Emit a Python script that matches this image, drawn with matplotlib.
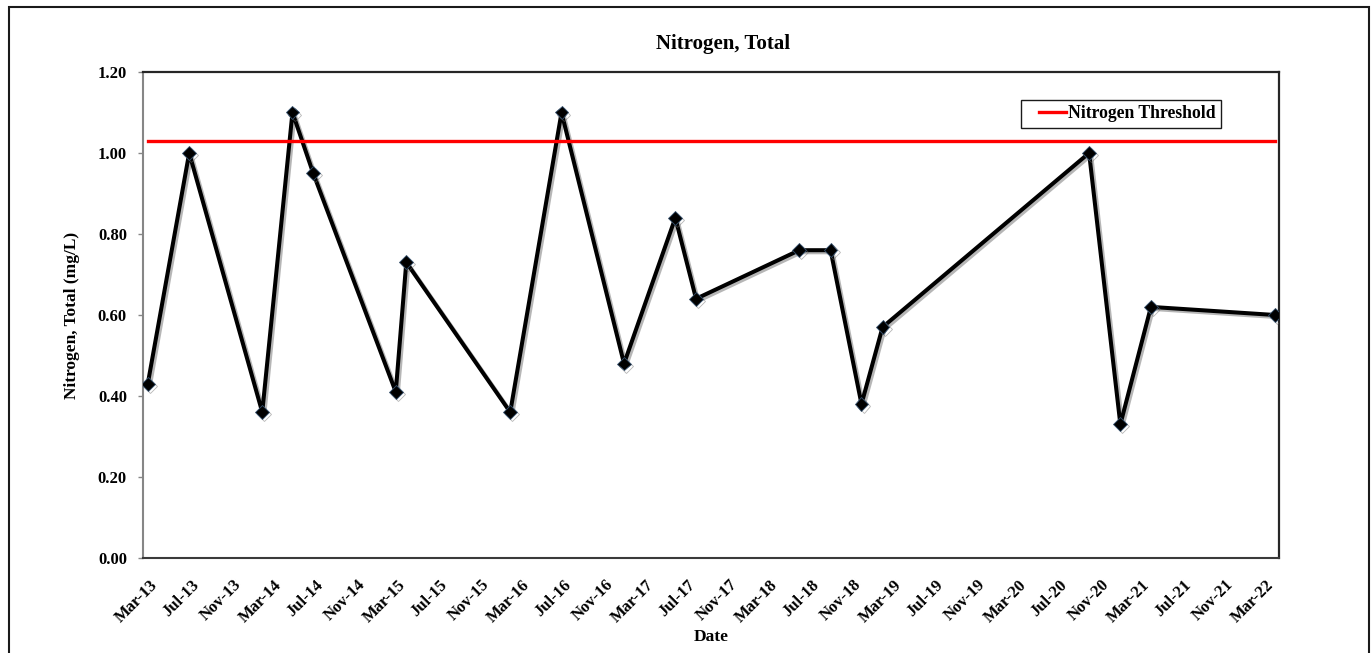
import matplotlib
matplotlib.use("Agg")
import matplotlib.pyplot as plt
import matplotlib.dates as mdates
import matplotlib.patheffects as pe
from matplotlib.patches import Rectangle
from matplotlib.lines import Line2D
from matplotlib.legend_handler import HandlerLine2D
from matplotlib.transforms import ScaledTranslation
from matplotlib.ticker import FormatStrFormatter
import pandas as pd

# ---- data ----
sample_dates = ['2013-03-15', '2013-07-15', '2014-02-15', '2014-05-15', '2014-07-15',
                '2015-03-15', '2015-04-15', '2016-02-15', '2016-07-15', '2017-01-15',
                '2017-06-15', '2017-08-15', '2018-06-15', '2018-09-15', '2018-12-15',
                '2019-02-15', '2020-10-15', '2021-01-15', '2021-04-15', '2022-04-15']
nitrogen = [0.43, 1.00, 0.36, 1.10, 0.95,
            0.41, 0.73, 0.36, 1.10, 0.48,
            0.84, 0.64, 0.76, 0.76, 0.38,
            0.57, 1.00, 0.33, 0.62, 0.60]
threshold = 1.03
y_ticks = [0.0, 0.2, 0.4, 0.6, 0.8, 1.0, 1.2]
x_start, x_end = '2013-03-01', '2022-04-27'
tick_start, tick_end = '2013-03-01', '2022-03-01'

dates = pd.to_datetime(sample_dates)

FONT = 'Liberation Serif'
plt.rcParams['font.family'] = [FONT, 'DejaVu Serif']
plt.rcParams['font.weight'] = 'bold'

W, H = 1371, 653
fig = plt.figure(figsize=(W / 100, H / 100), dpi=100)
fig.patch.set_facecolor('white')

L, R, T, B = 143, 1279, 72, 558
ax = fig.add_axes([L / W, 1 - B / H, (R - L) / W, (B - T) / H])

# data series with soft shadow
ax.plot(dates, nitrogen, color='black', lw=2.9, marker='D', ms=7,
        mfc='black', mec='#34506e', mew=0.6, zorder=3,
        path_effects=[pe.SimpleLineShadow(offset=(1.5, -1.5), shadow_color='#6f6f6f', alpha=0.5),
                      pe.Normal()])

# threshold line spanning first to last sample
thr_line, = ax.plot([dates[0], dates[-1]], [threshold, threshold], color='#ff0000',
                    lw=2.4, zorder=4, label='Nitrogen Threshold')

ax.set_xlim(pd.Timestamp(x_start), pd.Timestamp(x_end))
ax.set_ylim(0, 1.2)
ax.set_yticks(y_ticks)
ax.yaxis.set_major_formatter(FormatStrFormatter('%.2f'))

xt = pd.date_range(tick_start, tick_end, freq='4MS')
ax.set_xticks(xt)
ax.xaxis.set_major_formatter(mdates.DateFormatter('%b-%y'))

ax.tick_params(axis='y', direction='out', length=3.6, width=1.0, color='#868686',
               pad=8, labelsize=12, labelcolor='black')
ax.tick_params(axis='x', length=0, pad=13.5, labelsize=12, labelcolor='black')

offset = ScaledTranslation(6.5 / 100, 0, fig.dpi_scale_trans)
for lbl in ax.get_xticklabels():
    lbl.set_rotation(45)
    lbl.set_ha('right')
    lbl.set_va('top')
    lbl.set_rotation_mode('anchor')
    lbl.set_fontweight('bold')
    lbl.set_transform(lbl.get_transform() + offset)
for lbl in ax.get_yticklabels():
    lbl.set_fontweight('bold')

ax.spines['left'].set_color('#868686')
ax.spines['left'].set_linewidth(1.5)
ax.spines['bottom'].set_color('#3a3a3a')
ax.spines['bottom'].set_linewidth(1.5)
for s in ('top', 'right'):
    ax.spines[s].set_color('#262626')
    ax.spines[s].set_linewidth(1.6)


class PaddedLineHandler(HandlerLine2D):
    """Draw the legend line only over the right part of the handle box."""
    def create_artists(self, legend, orig_handle, xdescent, ydescent, width,
                       height, fontsize, trans):
        artists = super().create_artists(legend, orig_handle, xdescent, ydescent,
                                         width, height, fontsize, trans)
        for a in artists:
            if isinstance(a, Line2D) and a.get_linestyle() not in ('None', 'none', ''):
                xd = list(a.get_xdata())
                yd = list(a.get_ydata())
                if len(xd) >= 2:
                    x0, x1 = xd[0], xd[-1]
                    a.set_data([x0 + 0.31 * (x1 - x0), x1], [yd[0], yd[0]])
        return artists


leg = ax.legend(handles=[thr_line], loc='upper left',
                bbox_to_anchor=(1021 / W, 1 - 100 / H), bbox_transform=fig.transFigure,
                frameon=True, fancybox=False, edgecolor='#1a1a1a', framealpha=1,
                borderpad=0.3, borderaxespad=0, handlelength=2.25, handletextpad=0.1,
                handler_map={Line2D: PaddedLineHandler()},
                prop={'family': FONT, 'weight': 'bold', 'size': 12.7})
leg.get_frame().set_linewidth(1.0)

# titles / axis labels
fig.text(723 / W, 1 - 49.3 / H, 'Nitrogen, Total', ha='center', va='baseline',
         fontsize=15, fontweight='bold', family=FONT)
fig.text(72 / W, 1 - 315 / H, 'Nitrogen, Total (mg/L)', rotation=90, ha='center',
         va='center', fontsize=12.5, fontweight='bold', family=FONT)
fig.text(711 / W, 1 - 637 / H, 'Date', ha='center', va='center',
         fontsize=12.5, fontweight='bold', family=FONT)

# outer chart border
fig.add_artist(Rectangle((8.7 / W, -0.05), (1369.3 - 8.7) / W, 1.05 - 7.3 / H,
                         transform=fig.transFigure, fill=False,
                         edgecolor='#1a1a1a', lw=1.5))

fig.savefig('out.png', dpi=100, facecolor='white')
